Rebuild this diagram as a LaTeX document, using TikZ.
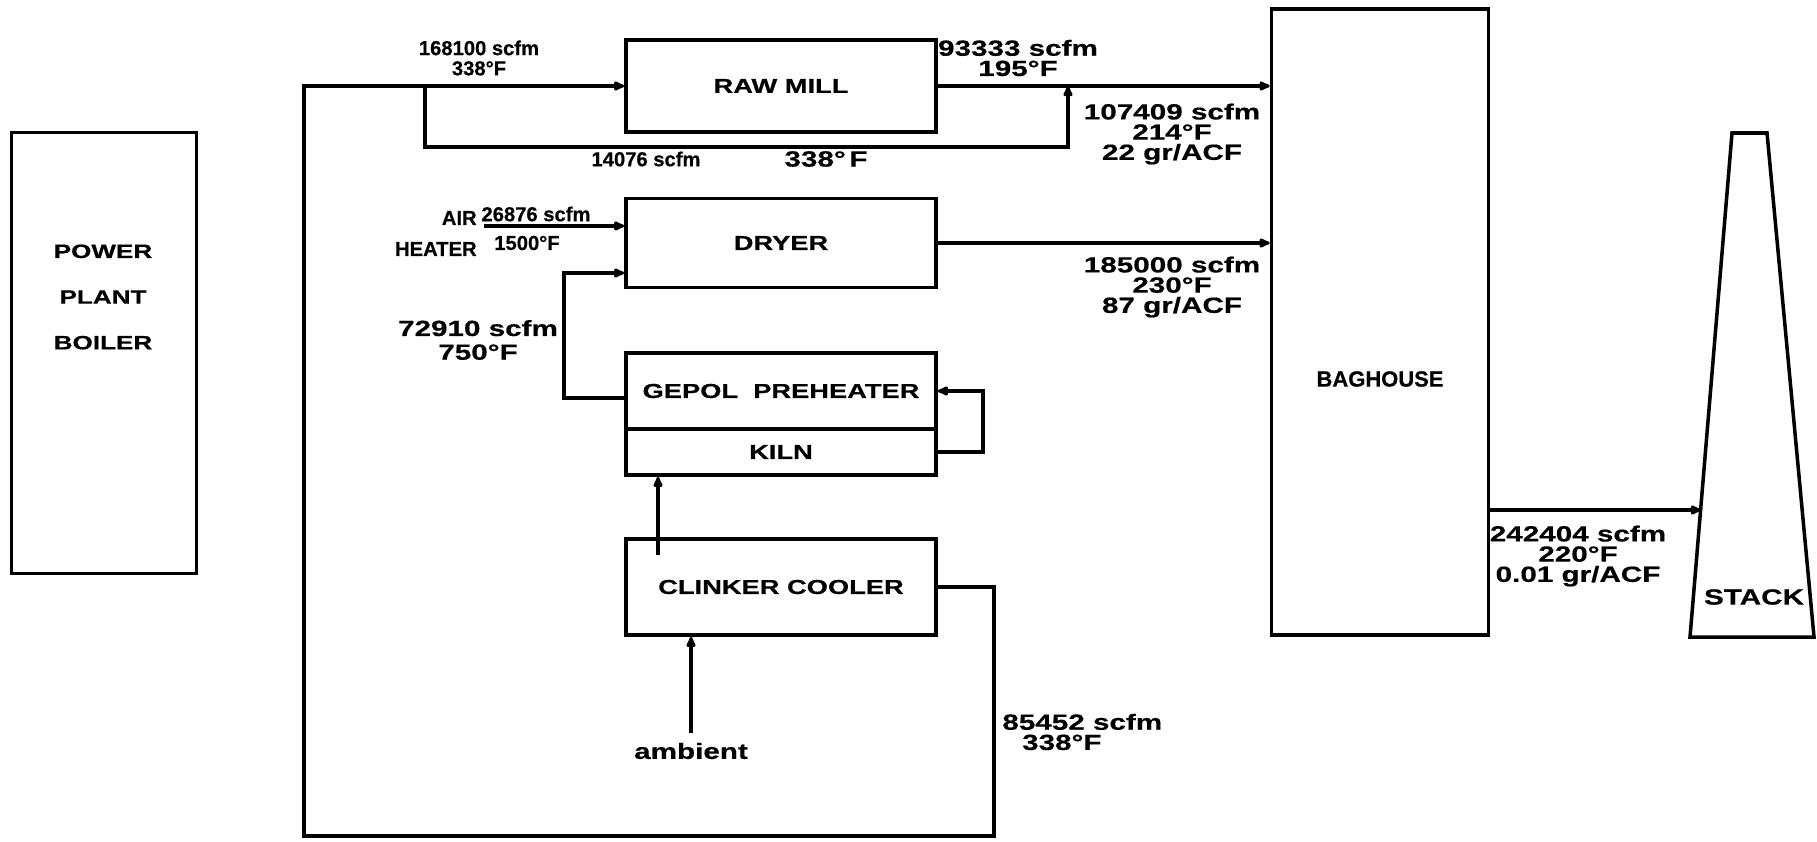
\documentclass[tikz,border=0pt]{standalone}
\usepackage{fontspec}
\setmainfont{Liberation Sans}[FakeStretch=1.35, FakeBold=0.5]
\newfontfamily\plainsans{Liberation Sans}[FakeBold=0.5]
\usepackage{tikz}
\usetikzlibrary{arrows.meta, positioning, calc}
\tikzset{
  unit/.style={rectangle, draw=black, line width=2pt, inner sep=0pt,
    minimum width=6.2cm, font=\fontsize{11.5}{14}\selectfont\bfseries},
  flow/.style={-{Latex[length=8pt,width=6.5pt,round]}, line width=2pt},
  line/.style={line width=2pt},
  lbl/.style={align=center, inner sep=0pt,
    font=\fontsize{12.5}{11.5}\selectfont\bfseries},
  narrow/.style={lbl, font=\fontsize{11.5}{11.5}\selectfont\plainsans\bfseries}
}

\begin{document}
\begin{tikzpicture}[x=0.02cm, y=-0.02cm]
  \useasboundingbox (0,0) rectangle (1817,841);
  % Process units
  \node[unit, minimum width=3.7cm, minimum height=8.82cm] (boiler) at (104,353) {};
  \node[unit, minimum height=1.84cm] (rawmill) at (781,86) {RAW MILL};
  \node[unit, minimum height=1.78cm] (dryer) at (781,243) {DRYER};
  \node[unit, minimum height=1.52cm] (preheater) at (781,391) {GEPOL\ \ PREHEATER};
  \node[unit, minimum height=0.92cm] (kiln) at (781,452) {KILN};
  \node[unit, minimum height=1.92cm] (cooler) at (781,587) {CLINKER COOLER};
  \node[unit, minimum width=4.34cm, minimum height=12.52cm] (baghouse) at (1380,322) {};
  % Stack
  \draw[line] (1732,133) -- (1767,133) -- (1814,637) -- (1690,637) -- cycle;
  \coordinate (stackin) at (1701,510);
  \node[lbl] (stacktxt) at (1754,597) {STACK};
  \node[narrow, font=\fontsize{12.5}{14}\selectfont\plainsans\bfseries] (bagtxt) at (1380,379) {BAGHOUSE};
  \node[lbl, font=\fontsize{11}{26}\selectfont\bfseries] (boilertxt) at (103,297) {POWER\\PLANT\\BOILER};

  % Gas loop from the clinker cooler to the raw mill
  \coordinate (loopbr) at (994,836);
  \coordinate (looptl) at (304,86);
  \draw[flow] (cooler.east) -| (loopbr) -| (looptl) -- (rawmill.west);
  % Bypass around the raw mill
  \coordinate (bypassl) at (425,86);
  \coordinate (bypassr) at (1068,86);
  \draw[flow] (bypassl) -- ++(0,61) -| (bypassr);
  % To the baghouse and the stack
  \draw[flow] (rawmill.east) -- (rawmill.east -| baghouse.west);
  \draw[flow] (dryer.east) -- (dryer.east -| baghouse.west);
  \draw[flow] (baghouse.east |- stackin) -- (stackin);
  % Air heater and preheater gas to the dryer
  \coordinate (airsrc) at (484,226);
  \draw[flow] (airsrc) -- (airsrc -| dryer.west);
  \coordinate (phturn) at (564,273);
  \draw[flow] ([yshift=-0.14cm]preheater.west) -| (phturn) -- (phturn -| dryer.west);
  % Kiln recycle
  \draw[flow] (kiln.east) -- ++(45,0) |- (preheater.east);
  % Cooler air to the kiln
  \draw[flow] ([xshift=-2.46cm,yshift=-0.36cm]cooler.north) -- ([xshift=-2.46cm]kiln.south);
  % Ambient air
  \node[lbl] (ambient) at (691,751) {ambient};
  \draw[flow] ([yshift=0.2cm]ambient.north) -- (ambient.north |- cooler.south);

  % Flow labels
  \node[narrow] (rawinlbl) at (479,58) {168100 scfm\\338°F};
  \node[lbl] (rawoutlbl) at (1018,58) {93333 scfm\\195°F};
  \node[narrow] (bypassflowlbl) at (646,159) {14076 scfm};
  \node[lbl] (bypasstemplbl) at (826,159) {338°\,F};
  \node[lbl] (bagonelbl) at (1172,134) {107409 scfm\\214°F\\22 gr/ACF};
  \node[narrow, anchor=east] (airlbl) at (477,218) {AIR};
  \node[narrow, anchor=east] (heaterlbl) at (477,249) {HEATER};
  \node[narrow] (airflowlbl) at (536,214) {26876 scfm};
  \node[narrow] (airtemplbl) at (527,243) {1500°F};
  \node[lbl] (phlbl) at (478,340) {72910 scfm\\[2pt]750°F};
  \node[lbl] (bagtwolbl) at (1172,287) {185000 scfm\\230°F\\87 gr/ACF};
  \node[lbl] (stacklbl) at (1578,556) {242404 scfm\\220°F\\0.01 gr/ACF};
  \node[lbl, anchor=west, align=left] (looplbl) at (1002,732) {85452 scfm\\\hspace{0.9em}338°F};
\end{tikzpicture}
\end{document}
